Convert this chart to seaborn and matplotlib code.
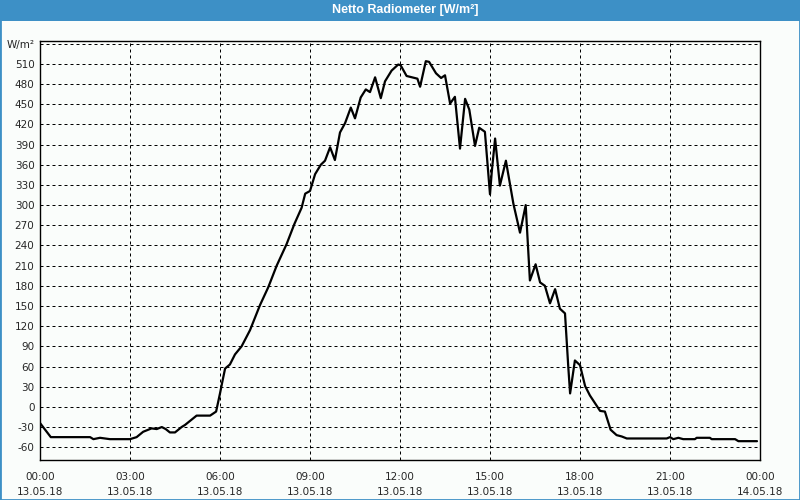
import matplotlib
matplotlib.use("Agg")
import matplotlib.pyplot as plt
from matplotlib.patches import Rectangle
import seaborn as sns
import pandas as pd

# ---- data ----
hours = [0.00, 0.36, 1.00, 1.67, 1.78, 2.00, 2.33, 3.00, 3.22, 3.44, 3.72, 3.89,
         4.06, 4.19, 4.33, 4.50, 4.72, 4.83, 5.22, 5.67, 5.87, 6.00, 6.09, 6.17,
         6.33, 6.50, 6.72, 7.00, 7.33, 7.61, 7.89, 8.22, 8.48, 8.72, 8.84, 9.00,
         9.17, 9.36, 9.50, 9.67, 9.83, 10.00, 10.17, 10.36, 10.50, 10.69, 10.86,
         11.00, 11.17, 11.36, 11.50, 11.72, 11.94, 12.02, 12.22, 12.58, 12.67,
         12.86, 12.97, 13.20, 13.37, 13.50, 13.67, 13.83, 14.00, 14.17, 14.31,
         14.50, 14.64, 14.83, 15.00, 15.06, 15.17, 15.33, 15.53, 15.78, 16.00,
         16.19, 16.33, 16.52, 16.67, 16.83, 17.00, 17.17, 17.33, 17.50, 17.61,
         17.67, 17.83, 18.00, 18.17, 18.33, 18.67, 18.83, 19.02, 19.22, 19.39,
         19.56, 20.89, 21.00, 21.11, 21.28, 21.44, 21.83, 21.89, 22.33, 22.39,
         23.17, 23.28, 23.90]
values = [-24, -45, -45, -45, -48, -46, -48, -48, -45, -37, -32, -33,
          -30, -33, -38, -38, -30, -27, -13, -13, -7, 20, 40, 57,
          63, 78, 90, 114, 151, 178, 210, 242, 272, 296, 317, 321,
          346, 360, 366, 386, 367, 408, 422, 445, 429, 460, 472,
          468, 490, 459, 484, 500, 509, 508, 492, 488, 476,
          514, 513, 496, 489, 493, 451, 461, 384, 458, 442,
          388, 415, 409, 316, 350, 399, 329, 366, 302, 259,
          300, 188, 212, 185, 180, 154, 175, 146, 139, 59,
          20, 69, 62, 31, 17, -6, -7, -34, -42, -44,
          -47, -47, -45, -48, -46, -48, -48, -46, -46, -48,
          -48, -51, -51]

xtick_hours = [0, 3, 6, 9, 12, 15, 18, 21, 24]
xtick_labels = ["00:00\n13.05.18", "03:00\n13.05.18", "06:00\n13.05.18",
                "09:00\n13.05.18", "12:00\n13.05.18", "15:00\n13.05.18",
                "18:00\n13.05.18", "21:00\n13.05.18", "00:00\n14.05.18"]
ytick_values = list(range(-60, 541, 30))
ytick_labels = [str(v) for v in range(-60, 511, 30)] + ["W/m\u00b2"]
title = "Netto Radiometer [W/m\u00b2]"

df = pd.DataFrame({"hour": hours, "value": values})

# ---- style ----
sns.set_style("white")
plt.rcParams["font.family"] = ["DejaVu Sans"]
BG = "#fafdfb"
BLUE = "#3d90c6"

fig = plt.figure(figsize=(8, 5), dpi=100, facecolor=BG)
ax = fig.add_axes([40 / 800, 40 / 500, 720 / 800, 419 / 500])
ax.set_facecolor(BG)

sns.lineplot(data=df, x="hour", y="value", ax=ax, color="black",
             linewidth=1.6, estimator=None, sort=False)

ax.set_xlim(0, 24)
ax.set_ylim(-79, 544)
ax.set_xticks(xtick_hours)
ax.set_xticklabels(xtick_labels, fontsize=7.5, linespacing=1.65)
ax.set_xticks(range(0, 25), minor=True)
ax.set_yticks(ytick_values)
ax.set_yticklabels(ytick_labels, fontsize=7.5)
ax.set_xlabel("")
ax.set_ylabel("")

ax.tick_params(axis="x", which="both", direction="out", length=2.5, width=0.8,
               color="black", pad=6)
ax.tick_params(axis="y", length=0, pad=4)

ax.grid(True, which="major", color="black", linewidth=0.72,
        linestyle=(0, (3, 3)))
for s in ax.spines.values():
    s.set_visible(True)
    s.set_color("black")
    s.set_linewidth(1.0)

# title bar
fig.patches.append(Rectangle((0, 1 - 21 / 500), 1, 21 / 500,
                             transform=fig.transFigure, facecolor=BLUE,
                             edgecolor="none", zorder=0))
fig.text(0.507, 1 - 10.5 / 500, title, color="white", fontsize=9,
         fontweight="bold", ha="center", va="center",
         family=["Liberation Sans", "DejaVu Sans"])
fig.patches.append(Rectangle((0, 0), 1, 1, transform=fig.transFigure,
                             fill=False, edgecolor=BLUE, linewidth=2,
                             zorder=5))

fig.savefig("out.png", dpi=100, facecolor=BG)
